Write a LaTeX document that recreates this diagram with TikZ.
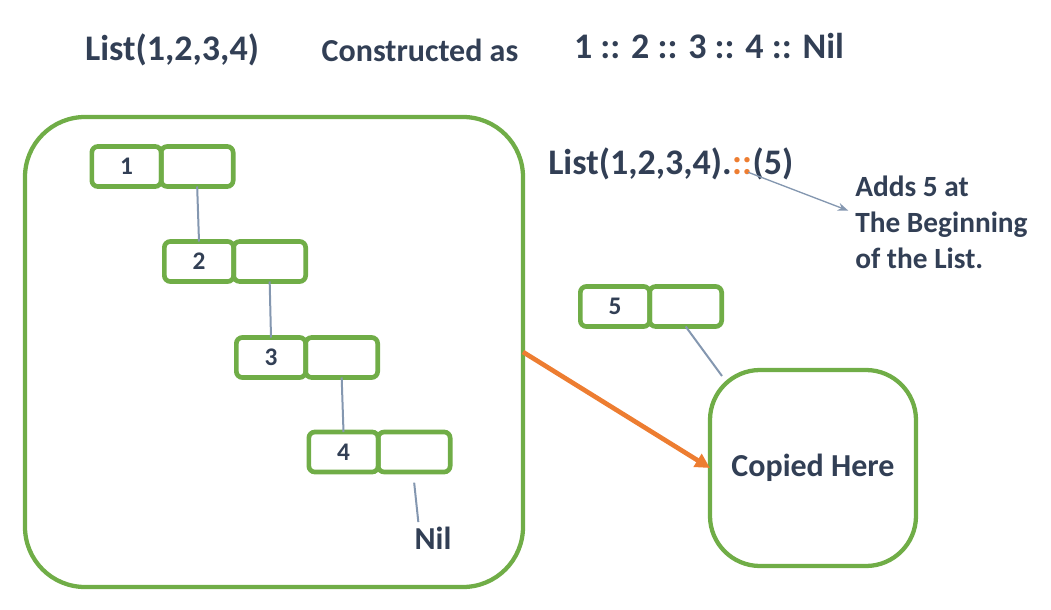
\documentclass[tikz,border=0pt]{standalone}
\usepackage{fontspec}
\setmainfont{Carlito}
\usetikzlibrary{positioning,arrows.meta}
\definecolor{cellgreen}{RGB}{112,173,71}
\definecolor{txtblue}{RGB}{50,63,85}
\definecolor{linkgray}{RGB}{132,151,176}
\definecolor{consorange}{RGB}{237,125,49}
\tikzset{
    cell/.style={draw=cellgreen, line width=3.5pt, rounded corners=4.5pt, minimum height=30pt, outer sep=0pt, inner sep=0pt, text=txtblue, font=\fontsize{19}{19}\selectfont\bfseries},
    val/.style={cell, minimum width=52pt},
    nxt/.style={cell, minimum width=54pt},
    box/.style={draw=cellgreen, line width=3.2pt, outer sep=0pt, text=txtblue},
    link/.style={linkgray, line width=1.5pt},
    big/.style={text=txtblue, font=\fontsize{27}{27}\selectfont\bfseries}
}

\begin{document}
\begin{tikzpicture}[x=0.75pt, y=-0.75pt]
    \useasboundingbox (0,0) rectangle (1051,610);

    % Header line
    \node[big] (lst) at (172,50) {List(1,2,3,4)};
    \node[text=txtblue, font=\fontsize{24}{24}\selectfont\bfseries] (cons) at (420,50) {Constructed as};
    \node[big] (seq) at (709,46) {1 :: 2 :: 3 :: 4 :: Nil};

    % Original list
    \node[box, minimum width=373.5pt, minimum height=352.5pt, rounded corners=45pt] (heap) at (274,352) {};
    \foreach \i/\x/\y in {1/126.5/166.5, 2/199/261.5, 3/271/357.5, 4/343.5/452} {
        \node[val] (v\i) at (\x,\y) {\i};
        \node[nxt, right=0pt of v\i] (n\i) {};
    }
    \foreach \i/\j in {1/2, 2/3, 3/4} {
        \draw[link] (n\i.south) -- (v\j.north);
    }
    \node[text=txtblue, font=\fontsize{24}{24}\selectfont\bfseries] (nil) at (433,538) {Nil};
    \draw[link] ([yshift=-8pt]n4.south) -- ([xshift=-11pt]nil.north);

    % Prepend call
    \node[big, inner sep=0pt, anchor=base west] (app) at (548,175) {List(1,2,3,4).};
    \node[big, inner sep=0pt, anchor=base west, text=consorange] (cc) at (app.base east) {::};
    \node[big, inner sep=0pt, anchor=base west] (arg) at (cc.base east) {(5)};
    \node[text=txtblue, font=\fontsize{22}{27}\selectfont\bfseries, align=left, anchor=north west, inner sep=0pt] (adds) at (855,176) {Adds 5 at\\The Beginning\\of the List.};
    \draw[linkgray, line width=1pt, -{Stealth[length=8pt, width=6pt]}] ([shift={(-3pt,2pt)}]cc.base east) -- ([shift={(-5pt,9pt)}]adds.west);

    % New head
    \node[val] (v5) at (615,306.5) {5};
    \node[nxt, right=0pt of v5] (n5) {};
    \node[box, minimum width=154.5pt, minimum height=147pt, rounded corners=37.5pt, font=\fontsize{24}{24}\selectfont\bfseries] (copy) at (813,468) {Copied Here};
    \draw[link] (n5.south) -- ([shift={(9pt,-4.5pt)}]copy.north west);

    % Copy arrow
    \draw[consorange, line width=3.5pt, -{Triangle[length=11pt, width=11pt]}] (heap.east) -- (copy.west);
\end{tikzpicture}
\end{document}
